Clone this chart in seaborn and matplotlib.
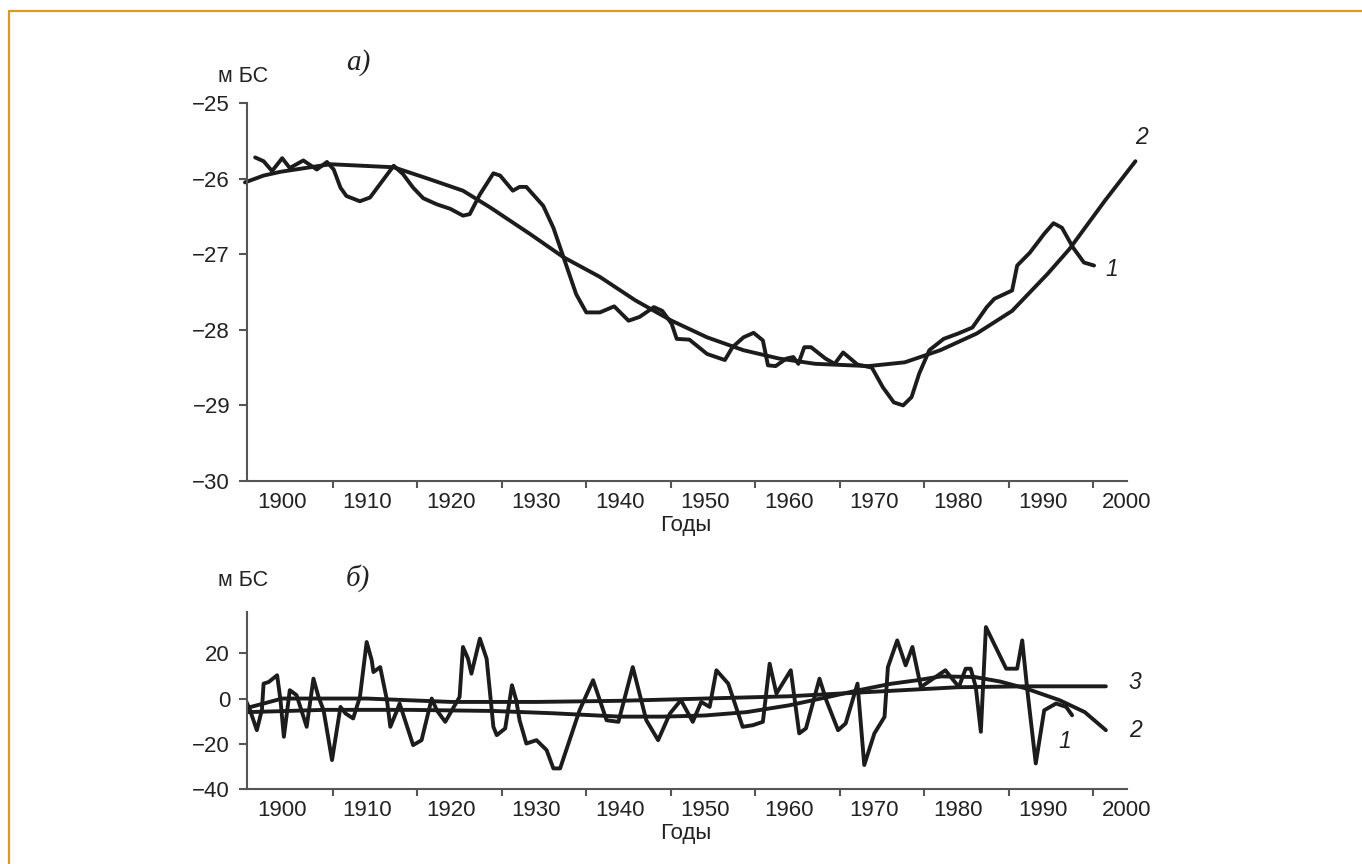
import numpy as np
import pandas as pd
import matplotlib
matplotlib.use("Agg")
import matplotlib.pyplot as plt
from matplotlib.lines import Line2D
import seaborn as sns

# ---- data ----
# panel a) curve 1: observed level, m BS
top_obs_years = [1896.8, 1897.8, 1898.8, 1900.0, 1900.9, 1902.5, 1904.1, 1905.3, 1906.1, 1906.9,
                 1907.6, 1909.2, 1910.4, 1911.6, 1913.2, 1914.3, 1915.5, 1916.7, 1918.3, 1919.9,
                 1921.4, 1922.2, 1923.4, 1925.0, 1925.8, 1927.3, 1928.1, 1928.9, 1930.9, 1932.1,
                 1933.3, 1934.8, 1936.0, 1937.6, 1939.3, 1941.0, 1942.3, 1944.0, 1945.0, 1946.1,
                 1946.7, 1948.2, 1950.3, 1952.4, 1953.3, 1954.6, 1955.8, 1956.9, 1957.5, 1958.4,
                 1959.7, 1960.5, 1961.1, 1961.8, 1962.6, 1964.3, 1965.4, 1966.4, 1968.1, 1969.8,
                 1971.1, 1972.4, 1973.5, 1974.5, 1975.4, 1976.6, 1978.3, 1980.0, 1981.7, 1983.4,
                 1984.3, 1986.4, 1987.0, 1988.5, 1990.2, 1991.3, 1992.3, 1993.6, 1994.9, 1996.1]
top_obs_values = [-25.72, -25.77, -25.90, -25.73, -25.86, -25.76, -25.88, -25.78, -25.88, -26.12,
                  -26.23, -26.30, -26.25, -26.07, -25.83, -25.94, -26.12, -26.26, -26.34, -26.40,
                  -26.49, -26.47, -26.21, -25.93, -25.96, -26.16, -26.11, -26.11, -26.36, -26.65,
                  -27.04, -27.53, -27.77, -27.77, -27.69, -27.88, -27.83, -27.70, -27.75, -27.92,
                  -28.12, -28.13, -28.32, -28.40, -28.23, -28.10, -28.04, -28.14, -28.47, -28.48,
                  -28.38, -28.36, -28.45, -28.23, -28.23, -28.38, -28.45, -28.30, -28.46, -28.50,
                  -28.76, -28.96, -29.00, -28.89, -28.58, -28.27, -28.12, -28.05, -27.97, -27.70,
                  -27.59, -27.48, -27.15, -26.98, -26.73, -26.59, -26.65, -26.91, -27.11, -27.15]

# panel a) curve 2: smooth trend
top_trend_years = [1895.6, 1897.8, 1899.8, 1905.7, 1913.2, 1917.5, 1921.4, 1924.6, 1929.3, 1933.3,
                   1937.6, 1941.8, 1946.1, 1950.3, 1954.6, 1958.8, 1963.1, 1969.4, 1973.7, 1977.9,
                   1982.2, 1986.4, 1990.6, 1993.2, 1997.4, 2001.0]
top_trend_values = [-26.05, -25.96, -25.91, -25.81, -25.85, -26.01, -26.16, -26.38, -26.73, -27.04,
                    -27.30, -27.61, -27.88, -28.10, -28.27, -28.38, -28.45, -28.48, -28.43, -28.27,
                    -28.05, -27.75, -27.26, -26.93, -26.29, -25.77]

# panel б) curve 1: deviations
bot_obs_years = [1895.6, 1896.2, 1897.0, 1897.6, 1897.8, 1898.4, 1899.4, 1899.8, 1900.2, 1900.9,
                 1901.7, 1902.9, 1903.7, 1904.3, 1904.9, 1905.9, 1906.9, 1907.5, 1908.4, 1909.2,
                 1910.0, 1910.6, 1910.8, 1911.6, 1912.4, 1912.8, 1913.6, 1913.9, 1915.5, 1916.5,
                 1917.7, 1918.3, 1919.3, 1921.0, 1921.4, 1922.0, 1922.4, 1923.4, 1924.2, 1925.0,
                 1925.4, 1926.4, 1927.2, 1927.7, 1928.1, 1928.9, 1930.1, 1931.3, 1932.1, 1932.9,
                 1935.2, 1936.8, 1938.4, 1939.8, 1941.5, 1943.1, 1944.5, 1945.9, 1947.2, 1948.6,
                 1949.6, 1950.6, 1951.4, 1952.8, 1954.5, 1955.7, 1956.9, 1957.7, 1958.5, 1960.2,
                 1961.2, 1962.0, 1963.6, 1964.4, 1965.8, 1966.7, 1968.1, 1968.9, 1970.1, 1971.3,
                 1971.7, 1972.8, 1973.8, 1974.6, 1975.6, 1978.5, 1980.1, 1980.9, 1981.5, 1982.1,
                 1982.7, 1983.3, 1985.7, 1987.0, 1987.6, 1988.2, 1989.2, 1990.2, 1991.6, 1992.8, 1993.5]
bot_obs_values = [0, -5.2, -14, -5, 6.6, 7.3, 10.3, -0.7, -16.9, 3.7,
                  1.5, -12.5, 8.8, 0.7, -5.2, -27.2, -3.7, -6.6, -8.8, 0.7,
                  25, 16.9, 11.7, 13.9, -0.7, -12.5, -5.2, -2.2, -20.6, -18.4,
                  0, -5.2, -10.3, 0.7, 22.8, 17.6, 11, 26.5, 17.6, -12.5,
                  -16.2, -13.2, 5.9, -0.7, -9.6, -19.9, -18.4, -22.8, -30.9, -30.9,
                  -5.2, 8.1, -9.6, -10.3, 13.9, -9.6, -18.4, -6.6, -0.7, -10.3,
                  -1.5, -3.7, 12.5, 6.6, -12.5, -11.8, -10.3, 15.4, 2.2, 12.5,
                  -15.4, -13.2, 8.8, -0.7, -14, -11, 6.6, -29.4, -15.4, -8.1,
                  13.9, 25.7, 14.7, 22.8, 5.1, 12.5, 5.1, 13.2, 13.2, 5.1,
                  -14.7, 31.6, 13.2, 13.2, 25.7, 3.7, -28.7, -5.2, -2.2, -3.7, -7.4]

# panel б) curve 2: polynomial trend
bot_trend_years = [1896, 1905, 1915, 1925, 1932, 1940, 1945, 1950, 1955, 1960,
                   1965, 1968, 1972, 1975, 1978, 1982, 1985, 1988, 1992, 1995, 1997.5]
bot_trend_values = [-6, -5, -5, -5.5, -6.5, -8, -8, -7.5, -6, -3,
                    1, 3.5, 6.5, 8, 9.8, 9.5, 7.5, 4.5, -0.7, -6, -14]

# panel б) curve 3: nearly flat line
bot_flat_years = [1896, 1900, 1910, 1920, 1930, 1940, 1950, 1960, 1970, 1980, 1988, 1997.5]
bot_flat_values = [-4, 0, 0, -1.5, -1.5, -1, 0, 1, 3, 5, 5.4, 5.4]

decades = list(range(1900, 2001, 10))
minor_years = list(range(1906, 2000, 10))

# ---- style ----
sns.set_style("white")
plt.rcParams['font.family'] = ['Liberation Sans', 'DejaVu Sans']

W, H = 1362, 864
fig = plt.figure(figsize=(W / 100, H / 100), dpi=100)

line_kw = dict(color='#1c1c1c', linewidth=2.8, sort=False, estimator=None)
axis_col = '#555555'
text_col = '#222222'
XLIM = (1895.8, 2000)


def frac(px, py):
    return px / W, 1 - py / H


def style_axes(ax):
    for s in ['top', 'right']:
        ax.spines[s].set_visible(False)
    for s in ['left', 'bottom']:
        ax.spines[s].set_color(axis_col)
        ax.spines[s].set_linewidth(1.5)
    ax.set_xlim(*XLIM)
    ax.set_xticks(decades)
    ax.set_xticklabels([str(d) for d in decades])
    ax.set_xticks(minor_years, minor=True)
    ax.tick_params(which='both', bottom=True, left=True)
    ax.tick_params(axis='x', which='major', length=0, pad=8, labelsize=16, labelcolor=text_col)
    ax.tick_params(axis='x', which='minor', length=5, width=1.5, color=axis_col, direction='out')
    ax.tick_params(axis='y', which='major', length=6, width=1.5, color=axis_col, pad=6,
                   labelsize=16, labelcolor=text_col)
    ax.set_xlabel('')
    ax.set_ylabel('')


# panel a)
ax1 = fig.add_axes([246.7 / W, 1 - 481 / H, (1127 - 246.7) / W, (481 - 103) / H])
df_a1 = pd.DataFrame({'year': top_obs_years, 'level': top_obs_values})
df_a2 = pd.DataFrame({'year': top_trend_years, 'level': top_trend_values})
sns.lineplot(data=df_a2, x='year', y='level', ax=ax1, **line_kw).lines[-1].set_clip_on(False)
sns.lineplot(data=df_a1, x='year', y='level', ax=ax1, **line_kw)
ax1.set_ylim(-30, -25)
ax1.set_yticks([-30, -29, -28, -27, -26, -25])
style_axes(ax1)
ax1.text(2001.7, -25.46, '2', fontsize=16.5, style='italic', ha='center', va='center', color=text_col)
ax1.text(1998.2, -27.2, '1', fontsize=16.5, style='italic', ha='center', va='center', color=text_col)

# panel б)
ax2 = fig.add_axes([246.7 / W, 1 - 789 / H, (1127 - 246.7) / W, (789 - 611.7) / H])
df_b1 = pd.DataFrame({'year': bot_obs_years, 'dev': bot_obs_values})
df_b2 = pd.DataFrame({'year': bot_trend_years, 'dev': bot_trend_values})
df_b3 = pd.DataFrame({'year': bot_flat_years, 'dev': bot_flat_values})
sns.lineplot(data=df_b3, x='year', y='dev', ax=ax2, **line_kw)
sns.lineplot(data=df_b2, x='year', y='dev', ax=ax2, **line_kw)
sns.lineplot(data=df_b1, x='year', y='dev', ax=ax2, **line_kw)
ax2.set_ylim(-40, 38.4)
ax2.set_yticks([-40, -20, 0, 20])
style_axes(ax2)
ax2.text(2000.2, 7.2, '3', fontsize=16.5, style='italic', ha='left', va='center', color=text_col)
ax2.text(2000.2, -14, '2', fontsize=16.5, style='italic', ha='left', va='center', color=text_col)
ax2.text(1992.6, -19.2, '1', fontsize=16.5, style='italic', ha='center', va='center', color=text_col)

# labels around the panels
for py in (76, 580):
    fig.text(*frac(243, py), 'м БС', fontsize=15.5, ha='center', va='center', color=text_col)
fig.text(*frac(358, 63), 'а)', fontsize=21, style='italic', family='Liberation Serif',
         ha='center', va='center', color=text_col)
fig.text(*frac(358, 578), 'б)', fontsize=21, style='italic', family='Liberation Serif',
         ha='center', va='center', color=text_col)
fig.text(*frac(686, 526), 'Годы', fontsize=16, ha='center', va='center', color=text_col)
fig.text(*frac(686, 834), 'Годы', fontsize=16, ha='center', va='center', color=text_col)

# orange frame (top and left edge)
frame_col = '#d99a2b'
fig.add_artist(Line2D([9 / W, 1], [1 - 11 / H, 1 - 11 / H], color=frame_col, linewidth=1.6,
                      transform=fig.transFigure))
fig.add_artist(Line2D([9 / W, 9 / W], [0, 1 - 11 / H], color=frame_col, linewidth=1.6,
                      transform=fig.transFigure))

fig.savefig('out.png', dpi=100)
